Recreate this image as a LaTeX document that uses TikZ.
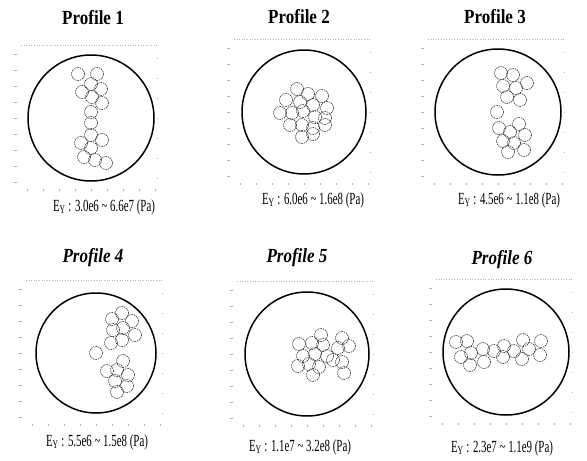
\documentclass[tikz,border=0pt]{standalone}
\usepackage{fontspec}
\setmainfont{Liberation Serif}
\newfontfamily\ttlfont[FakeStretch=0.85]{Liberation Serif}
\newfontfamily\capfont[FakeStretch=0.64]{Liberation Serif}
\usetikzlibrary{positioning}

\begin{document}
\begin{tikzpicture}[x=1pt,y=-1pt,
  wall/.style={line width=1.5pt},
  strand/.style={gray!45!black,line width=0.6pt,dash pattern=on 1.5pt off 0.8pt},
  axisbit/.style={gray!60,line width=0.6pt},
  ttl/.style={font=\ttlfont\fontsize{20}{22}\selectfont\bfseries},
  ttlit/.style={font=\ttlfont\fontsize{20}{22}\selectfont\bfseries\itshape},
  rng/.style={font=\capfont\fontsize{17}{19}\selectfont}]
\useasboundingbox (0,0) rectangle (587,461);

% axes and outer wall of each profile
\foreach \cx/\cy/\r in {91/118/63, 304/112/62, 498/112/63, 96/353/60, 307/354/62, 506/352/63}{
  \foreach \k in {-4,...,4}{
    \draw[axisbit] (\cx-77,\cy+16*\k) -- ++(3,0);
    \draw[axisbit] (\cx+16*\k,\cy+73) -- ++(0,-2);
  }
  \draw[axisbit,dotted] (\cx-70,\cy-73) -- (\cx+66,\cy-73);
  \foreach \k in {-3,...,3}
    \draw[axisbit] (\cx+67,\cy+20*\k) -- ++(-1.5,0);
  \draw[wall] (\cx,\cy) circle (\r);
}

% fibres
\foreach \x/\y in {78/74, 97/74, 91/84, 101/89, 82/92, 92/97, 102/103, 91/112,
  91/123, 91/135, 102/140, 81/143, 91/148, 84/157, 95/160, 106/163}
  \draw[strand] (\x,\y) circle (6.5);
\foreach \x/\y in {297/89, 308/94, 322/96, 286/100, 300/102, 313/105, 327/108,
  280/113, 292/113, 303/111, 315/117, 325/118, 290/125, 302/125, 313/128,
  325/125, 302/137, 313/134}
  \draw[strand] (\x,\y) circle (6.5);
\foreach \x/\y in {501/73, 513/75, 527/83, 503/86, 516/88, 507/97, 520/100,
  497/112, 499/128, 519/124, 510/132, 525/135, 503/141, 514/143, 508/152, 524/150}
  \draw[strand] (\x,\y) circle (6.5);
\foreach \x/\y in {122/313, 112/319, 132/321, 113/330, 123/328, 135/335, 111/343,
  122/340, 96/353, 123/361, 107/371, 117/370, 128/375, 115/381, 127/386, 117/392}
  \draw[strand] (\x,\y) circle (6.5);
\foreach \x/\y in {299/344, 312/343, 321/335, 323/345, 342/338, 349/346, 338/348,
  303/356, 315/354, 327/356, 333/360, 342/362, 298/366, 309/364, 319/367,
  313/375, 344/373}
  \draw[strand] (\x,\y) circle (6.5);
\foreach \x/\y in {456/342, 467/341, 461/357, 471/353, 483/349, 470/365, 484/362,
  494/351, 504/346, 503/357, 514/351, 523/340, 522/359, 529/349, 541/341, 540/355}
  \draw[strand] (\x,\y) circle (6.5);

% titles
\node[ttl] (p1) at (93,18) {Profile 1};
\node[ttl] (p2) at (299,17) {Profile 2};
\node[ttl] (p3) at (495,17) {Profile 3};
\node[ttlit] (p4) at (93,258) {Profile 4};
\node[ttlit] (p5) at (297,258) {Profile 5};
\node[ttlit] (p6) at (502,260) {Profile 6};

% modulus ranges
\node[rng] (e1) at (104,207) {E\textsubscript{Y} : 3.0e6 \textasciitilde{} 6.6e7 (Pa)};
\node[rng] (e2) at (313,200) {E\textsubscript{Y} : 6.0e6 \textasciitilde{} 1.6e8 (Pa)};
\node[rng] (e3) at (509,200) {E\textsubscript{Y} : 4.5e6 \textasciitilde{} 1.1e8 (Pa)};
\node[rng] (e4) at (97,442) {E\textsubscript{Y} : 5.5e6 \textasciitilde{} 1.5e8 (Pa)};
\node[rng] (e5) at (300,447) {E\textsubscript{Y} : 1.1e7 \textasciitilde{} 3.2e8 (Pa)};
\node[rng] (e6) at (502,448) {E\textsubscript{Y} : 2.3e7 \textasciitilde{} 1.1e9 (Pa)};
\end{tikzpicture}
\end{document}
